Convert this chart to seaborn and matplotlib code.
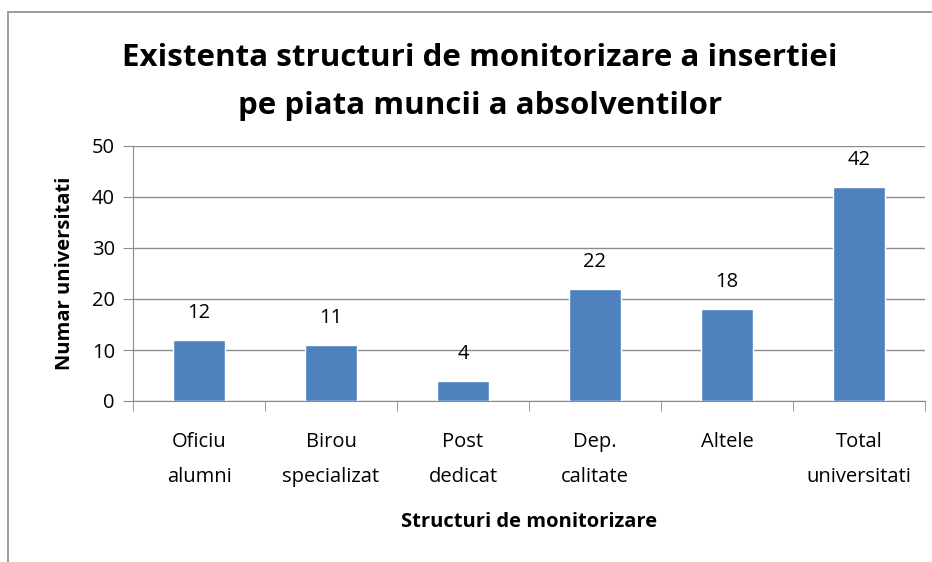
import numpy as np
import pandas as pd
import seaborn as sns
import matplotlib.pyplot as plt
from matplotlib.patches import Rectangle

categories = ["Oficiu\nalumni", "Birou\nspecializat", "Post\ndedicat",
              "Dep.\ncalitate", "Altele", "Total\nuniversitati"]
values = [12, 11, 4, 22, 18, 42]
yticks = [0, 10, 20, 30, 40, 50]

df = pd.DataFrame({"categorie": categories, "valoare": values})

sns.set_style("white")
plt.rcParams["font.family"] = ["Open Sans", "DejaVu Sans"]
plt.rcParams["text.color"] = "black"
plt.rcParams["axes.labelcolor"] = "black"
plt.rcParams["xtick.color"] = "black"
plt.rcParams["ytick.color"] = "black"

fig = plt.figure(figsize=(9.32, 5.62), dpi=100)
ax = fig.add_axes([133 / 932, 1 - 401 / 562, (925 - 133) / 932, (401 - 146) / 562])

sns.barplot(data=df, x="categorie", y="valoare", color="#4F81BD",
            width=0.4, saturation=1, ax=ax, zorder=3)

ax.set_ylim(0, 50)
ax.set_xlim(-0.5, len(categories) - 0.5)
ax.set_yticks(yticks)
ax.yaxis.grid(True, color="#8c8c8c", linewidth=1, zorder=0)
for s in ["top", "right"]:
    ax.spines[s].set_visible(False)
for s in ["left", "bottom"]:
    ax.spines[s].set_color("#8c8c8c")
ax.tick_params(axis="y", length=7, color="#8c8c8c", labelsize=14.5, pad=6, left=True)
ax.tick_params(axis="x", length=0, labelsize=14.5, pad=22)
ax.set_xticks(np.arange(len(categories)))
ax.set_xticklabels(categories, linespacing=2.0)
ax.set_xticks(np.arange(len(categories) + 1) - 0.5, minor=True)
ax.tick_params(axis="x", which="minor", length=7, color="#8c8c8c", bottom=True)

for i, v in enumerate(values):
    ax.text(i, v + 5.3, str(v), ha="center", va="center", fontsize=14.5)

ax.set_xlabel("Structuri de monitorizare", fontsize=14.5, fontweight="bold", labelpad=18)
ax.set_ylabel("Numar universitati", fontsize=14.5, fontweight="bold", labelpad=12)

fig.text(0.515, 1 - 82 / 562, "Existenta structuri de monitorizare a insertiei\npe piata muncii a absolventilor",
         ha="center", va="center", fontsize=22.5, fontweight="bold", linespacing=1.75)

fig.patches.append(Rectangle((7.5 / 932, -0.1), 1.2, 1.1 - 12 / 562,
                             transform=fig.transFigure, fill=False,
                             edgecolor="#8c8c8c", linewidth=1.2))

fig.savefig("out.png", dpi=100)
